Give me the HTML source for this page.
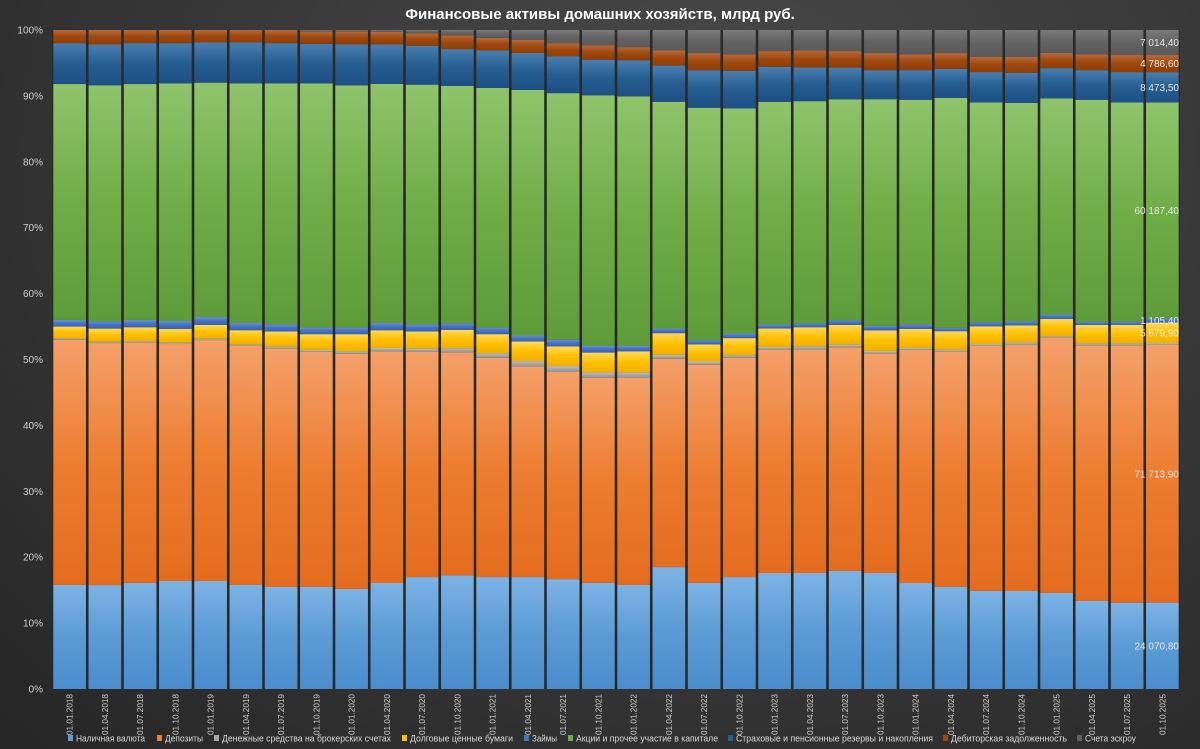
<!DOCTYPE html>
<html><head><meta charset="utf-8"><style>
html,body{margin:0;padding:0;}
body{width:1200px;height:749px;overflow:hidden;background:radial-gradient(ellipse at 60% 20%,#4a4a4a 0%,#3a3a3a 45%,#262626 100%);font-family:"Liberation Sans","DejaVu Sans",sans-serif;}
svg{position:absolute;left:0;top:0;}
</style></head><body>
<svg id="chart" width="1200" height="749" viewBox="0 0 1200 749" xmlns="http://www.w3.org/2000/svg">
<defs id="defs"></defs>
<text x="600" y="19" text-anchor="middle" fill="#ffffff" font-size="15" font-weight="bold" font-family="Liberation Sans, sans-serif">Финансовые активы домашних хозяйств, млрд руб.</text>
<text x="630" y="478" text-anchor="middle" fill="#ffffff" fill-opacity="0.035" font-size="92" font-weight="bold" font-family="Liberation Sans, sans-serif">MarketScreen</text>
<g id="grid"></g><g id="bars"></g><g id="labels"></g><g id="axes"></g><g id="legend"></g>
</svg>
<script>
const categories = ["01.01.2018","01.04.2018","01.07.2018","01.10.2018","01.01.2019","01.04.2019","01.07.2019","01.10.2019","01.01.2020","01.04.2020","01.07.2020","01.10.2020","01.01.2021","01.04.2021","01.07.2021","01.10.2021","01.01.2022","01.04.2022","01.07.2022","01.10.2022","01.01.2023","01.04.2023","01.07.2023","01.10.2023","01.01.2024","01.04.2024","01.07.2024","01.10.2024","01.01.2025","01.04.2025","01.07.2025","01.10.2025"];
const seriesNames = ["Наличная валюта","Депозиты","Денежные средства на брокерских счетах","Долговые ценные бумаги","Займы","Акции и прочее участие в капитале","Страховые и пенсионные резервы и накопления","Дебиторская задолженность","Счета эскроу"];
const cash = [15.8,15.8,16.1,16.4,16.4,15.8,15.5,15.5,15.2,16.1,17.0,17.3,17.0,17.0,16.7,16.1,15.8,18.5,16.1,17.0,17.6,17.6,17.9,17.6,16.1,15.5,14.9,14.9,14.6,13.4,13.1,13.1];
const deposits = [37.2,36.8,36.5,36.0,36.6,36.3,36.2,35.7,35.7,35.2,34.2,33.9,33.3,32.0,31.5,31.1,31.5,31.6,33.1,33.3,33.9,33.9,33.9,33.3,35.4,35.7,37.2,37.4,38.8,38.8,39.1,39.1];
const brokerage = [0.2,0.2,0.2,0.2,0.2,0.2,0.3,0.3,0.4,0.5,0.5,0.6,0.7,0.8,0.9,0.8,0.8,0.6,0.5,0.4,0.4,0.5,0.4,0.4,0.3,0.3,0.3,0.4,0.2,0.3,0.3,0.3];
const debtSecurities = [1.8,2.0,2.1,2.1,2.1,2.2,2.3,2.4,2.6,2.7,2.6,2.8,2.9,3.0,3.0,3.0,3.2,3.3,2.6,2.6,2.8,2.9,3.0,3.1,2.9,2.8,2.7,2.6,2.6,2.8,2.8,3.1];
const loans = [1.0,1.1,1.1,1.2,1.2,1.1,1.1,1.0,1.0,1.1,1.1,1.0,1.0,0.9,1.0,1.0,0.8,0.7,0.6,0.7,0.6,0.6,0.7,0.7,0.7,0.5,0.6,0.6,0.7,0.5,0.5,0.6];
const equity = [35.8,35.9,35.8,36.1,35.6,36.4,36.6,37.1,36.8,36.3,36.4,36.1,36.4,37.3,37.5,38.0,37.9,34.4,35.3,34.2,33.8,33.7,33.5,34.4,34.1,34.9,33.4,33.2,32.8,33.7,33.3,32.8];
const insurance = [6.2,6.2,6.2,6.1,6.1,6.2,6.1,6.0,6.2,6.0,5.9,5.6,5.7,5.6,5.6,5.4,5.5,5.5,5.7,5.7,5.3,5.1,4.8,4.4,4.5,4.4,4.6,4.6,4.6,4.5,4.6,4.6];
const receivables = [2.0,2.2,2.0,2.0,1.9,1.9,2.0,1.9,2.0,1.9,1.9,2.1,1.9,2.0,2.0,2.2,2.0,2.3,2.6,2.5,2.4,2.6,2.5,2.6,2.4,2.4,2.3,2.4,2.3,2.4,2.6,2.6];
const escrow = [0,0,0,0,0,0,0,0.2,0.2,0.3,0.5,0.8,1.2,1.5,2.0,2.3,2.6,3.1,3.5,3.7,3.2,3.1,3.2,3.5,3.7,3.5,4.1,4.1,3.5,3.7,3.8,3.8];
const lastLabels = ["24 070,80","71 713,90","","5 679,90","1 105,40","60 187,40","8 473,50","4 786,60","7 014,40"];
const yTicks = [0,10,20,30,40,50,60,70,80,90,100];
const yTickLabels = ["0%","10%","20%","30%","40%","50%","60%","70%","80%","90%","100%"];

const series = [cash,deposits,brokerage,debtSecurities,loans,equity,insurance,receivables,escrow];
const seriesKeys = ["cash","deposits","brokerage","debt-securities","loans","equity","insurance","receivables","escrow"];
const colors = ["#5b9bd5","#ed7d31","#a5a5a5","#ffc000","#4472c4","#70ad47","#255e91","#9e480e","#636363"];
const light = ["#7db3e6","#f4a06a","#c2c2c2","#ffd95a","#6a90d8","#8fc46c","#4a7eb0","#b8683a","#7a7a7a"];
const dark = ["#4a8ccd","#e46c1f","#959595","#f0b000","#3a62b0","#5e9c3a","#1d5086","#8f3e06","#5a5a5a"];

const NS="http://www.w3.org/2000/svg";
const PL=52, PR=1180, PT=30, PB=689;
const n=categories.length, step=(PR-PL)/n, gap=2.6;
const yScale=p=>PB-(PB-PT)*p/100;
const xScale=i=>PL+i*step;
function mk(tag,attrs,parent){const e=document.createElementNS(NS,tag);for(const k in attrs)e.setAttribute(k,attrs[k]);parent.appendChild(e);return e;}

const defs=document.getElementById('defs');
colors.forEach((c,s)=>{
  const g=mk('linearGradient',{id:'g'+s,x1:'0',y1:'0',x2:'0',y2:'1'},defs);
  mk('stop',{offset:'0','stop-color':light[s]},g);
  mk('stop',{offset:'0.5','stop-color':c},g);
  mk('stop',{offset:'1','stop-color':dark[s]},g);
});

const barsG=document.getElementById('bars');
mk('rect',{x:PL,y:PT,width:PR-PL,height:PB-PT,fill:'#2a2a2a'},barsG);
for(let i=0;i<n;i++){
  let total=0; series.forEach(s=>total+=s[i]);
  let cum=0;
  series.forEach((s,si)=>{
    const v=s[i]/total*100;
    if(v<=0){return;}
    const y0=yScale(cum), y1=yScale(cum+v);
    const r=document.createElementNS(NS,'rect');
    r.setAttribute('x',xScale(i)+gap/2);
    r.setAttribute('y',y1);
    r.setAttribute('width',step-gap);
    r.setAttribute('height',y0-y1);
    r.setAttribute('fill','url(#g'+si+')');
    
    
    barsG.appendChild(r);
    if(i===n-1 && lastLabels[si]){
      const t=document.createElementNS(NS,'text');
      t.setAttribute('x',PR-1);
      t.setAttribute('y',(y0+y1)/2+3.5);
      t.setAttribute('text-anchor','end');
      t.setAttribute('fill','#e6e6e6');
      t.setAttribute('font-size','10');
      t.textContent=lastLabels[si];
      
      
      document.getElementById('labels').appendChild(t);
    }
    cum+=v;
  });
}

const axes=document.getElementById('axes');
yTicks.forEach((p,k)=>{
  const t=document.createElementNS(NS,'text');
  t.setAttribute('x',43);t.setAttribute('y',yScale(p)+3.5);
  t.setAttribute('text-anchor','end');t.setAttribute('fill','#d0d0d0');t.setAttribute('font-size','10');
  t.textContent=yTickLabels[k];
  
  
  axes.appendChild(t);
});
categories.forEach((c,i)=>{
  const cx=xScale(i)+step/2+3;
  const t=document.createElementNS(NS,'text');
  t.setAttribute('x',cx);t.setAttribute('y',694);
  t.setAttribute('text-anchor','end');t.setAttribute('fill','#d0d0d0');t.setAttribute('font-size','8');
  t.setAttribute('textLength','41');t.setAttribute('lengthAdjust','spacingAndGlyphs');
  t.setAttribute('transform','rotate(-90 '+cx+' 694)');
  t.textContent=c;
  
  
  axes.appendChild(t);
});

const legend=document.getElementById('legend');
const legX=[68,157,214,402,524,568,728,943,1077];
const legEnd=[145,203,391,513,557,718,933,1067,1136];
seriesNames.forEach((name,si)=>{
  const g=document.createElementNS(NS,'g');
  
  
  legend.appendChild(g);
  mk('rect',{x:legX[si],y:735,width:5,height:6,fill:colors[si]},g);
  const t=mk('text',{x:legX[si]+8,y:741.5,fill:'#d8d8d8','font-size':'9',textLength:(legEnd[si]-legX[si]-8),lengthAdjust:'spacingAndGlyphs'},g);
  t.textContent=name;
});
</script>
</body></html>
